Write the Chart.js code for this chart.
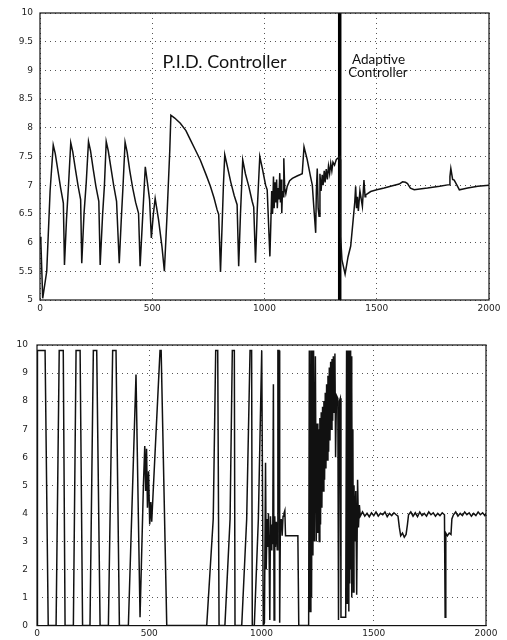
<!DOCTYPE html>
<html>
<head>
<meta charset="utf-8">
<script src="https://cdn.jsdelivr.net/npm/chart.js@4/dist/chart.umd.min.js"></script>
<style>
  body { margin: 0; background: #fff; width: 507px; height: 640px; overflow: hidden; }
  canvas { position: absolute; left: 0; }
  #levelChart { top: 0; }
  #ctrlChart { top: 320px; }
</style>
</head>
<body>
<canvas id="levelChart" width="507" height="320"></canvas>
<canvas id="ctrlChart" width="507" height="320"></canvas>
<script>
// time at which the adaptive controller takes over
const switchTime = 1335;

// top plot: measured level
const levelTime = [
  0, 4, 12, 30, 45, 59, 68, 80, 92, 104, 109, 118, 127, 137, 146, 158, 170, 181, 186,
  196, 206, 216, 225, 237, 249, 262, 268, 279, 287, 295, 304, 316, 328, 341, 353,
  362, 370, 379, 388, 400, 413, 426, 439, 446, 458, 469, 480, 488, 496, 505, 513,
  528, 543, 554, 566, 578, 583, 600, 625, 650, 670, 690, 714, 740, 759, 775, 789,
  796, 804, 812, 817, 823, 835, 850, 865, 878, 885, 893, 903, 915, 930, 945, 952,
  960, 968, 979, 990, 1005, 1012, 1024, 1028, 1032, 1036, 1040, 1043, 1047, 1050,
  1054, 1057, 1061, 1064, 1068, 1071, 1074, 1077, 1080, 1083, 1086, 1090, 1095,
  1101, 1112, 1124, 1145, 1168, 1176, 1190, 1205, 1213, 1220, 1228, 1231, 1235,
  1239, 1243, 1247, 1252, 1257, 1261, 1266, 1270, 1275, 1280, 1285, 1290, 1295,
  1300, 1305, 1312, 1320, 1327, 1335, 1337, 1339, 1345, 1359, 1372, 1384, 1395,
  1402, 1406, 1410, 1414, 1418, 1425, 1436, 1443, 1448, 1451, 1473, 1500, 1533,
  1570, 1600, 1615, 1628, 1637, 1650, 1667, 1700, 1726, 1780, 1823, 1826, 1830,
  1838, 1845, 1860, 1868, 1880, 1905, 1950, 2000
];
const levelValue = [
  6.1, 6.0, 5.03, 5.5, 6.9, 7.7, 7.55, 7.25, 6.95, 6.69, 5.61, 6.4, 7.0, 7.74, 7.58, 7.27, 6.98, 6.75, 5.64,
  6.5, 7.05, 7.76, 7.6, 7.28, 6.98, 6.72, 5.61, 6.5, 7.0, 7.76, 7.6, 7.3, 7.0, 6.72, 5.64,
  6.4, 7.0, 7.75, 7.58, 7.25, 6.95, 6.7, 6.51, 5.59, 6.5, 7.32, 7.0, 6.75, 6.08, 6.5, 6.77,
  6.4, 5.94, 5.5, 6.49, 7.6, 8.22, 8.17, 8.08, 7.95, 7.79, 7.63, 7.44, 7.18, 6.98, 6.78, 6.57,
  6.49, 5.49, 6.4, 7.0, 7.53, 7.32, 7.05, 6.82, 6.66, 5.59, 6.5, 7.44, 7.2, 6.98, 6.72, 6.62,
  5.65, 6.6, 7.5, 7.3, 7.0, 6.92, 5.76, 6.3, 6.9, 6.5, 7.15, 6.6, 7.05, 6.7,
  7.1, 6.6, 6.95, 6.75, 7.21, 6.7, 7.1, 6.51, 6.9, 6.8, 7.47, 6.95, 6.85,
  6.98, 7.08, 7.12, 7.16, 7.2, 7.67, 7.45, 7.15, 7.0, 6.6, 6.17, 6.9, 7.29,
  6.6, 6.46, 7.2, 6.9, 7.18, 7.0, 7.25, 7.05, 7.28, 7.1, 7.33, 7.2, 7.38,
  7.25, 7.4, 7.35, 7.45, 7.47, 7.5, 7.45, 6.11, 5.7, 5.45, 5.75, 5.94, 6.4,
  6.7, 6.98, 6.6, 6.8, 6.55, 6.9, 6.63, 7.09, 6.8, 6.83, 6.89, 6.92, 6.95,
  6.99, 7.02, 7.06, 7.05, 7.03, 6.95, 6.92, 6.94, 6.95, 6.98, 7.01, 7.15, 7.29,
  7.1, 7.09, 6.98, 6.92, 6.93, 6.95, 6.98, 7.0
];

// bottom plot: controller output
const ctrlTime = [
  0, 2, 36, 50, 85, 99, 117, 125, 162, 174, 192, 203, 236, 251, 266, 281,
  318, 337, 352, 367, 407, 441, 459, 466, 474, 480, 484, 488, 492, 497, 502, 507,
  511, 548, 553, 578, 756, 785, 796, 805, 811, 837, 860, 870, 879, 882, 912, 934,
  949, 956, 959, 968, 986, 1001, 1008, 1013, 1018, 1021, 1025, 1028, 1031, 1034,
  1037, 1040, 1043, 1046, 1050, 1053, 1056, 1059, 1062, 1066, 1070, 1073, 1078,
  1081, 1084, 1088, 1092, 1096, 1100, 1104, 1107, 1162, 1166, 1210, 1213, 1217,
  1220, 1223, 1226, 1229, 1232, 1236, 1240, 1244, 1248, 1251, 1254, 1257, 1260,
  1263, 1266, 1269, 1272, 1275, 1278, 1281, 1284, 1287, 1290, 1293, 1296, 1299,
  1302, 1305, 1308, 1311, 1314, 1317, 1320, 1323, 1327, 1330, 1334, 1340, 1343,
  1347, 1351, 1354, 1375, 1379, 1381, 1383, 1385, 1387, 1389, 1391, 1393, 1395,
  1397, 1399, 1401, 1403, 1405, 1407, 1409, 1412, 1416, 1420, 1424, 1428, 1432,
  1436, 1440, 1450, 1460, 1470, 1480, 1490, 1500, 1510, 1520, 1530, 1540, 1550,
  1560, 1570, 1580, 1590, 1600, 1608, 1614, 1620, 1628, 1636, 1644, 1650, 1655,
  1665, 1675, 1685, 1695, 1705, 1715, 1725, 1735, 1745, 1755, 1765, 1775, 1785,
  1795, 1805, 1815, 1818, 1821, 1828, 1836, 1844, 1848, 1855, 1865, 1875, 1885,
  1895, 1905, 1915, 1925, 1935, 1945, 1955, 1965, 1975, 1985, 1995, 2000
];
const ctrlValue = [
  0, 9.8, 9.8, 0, 0, 9.8, 9.8, 0, 0, 9.8, 9.8, 0, 0, 9.8, 9.8, 0,
  0, 9.8, 9.8, 0, 0, 8.95, 0.3, 2.5, 5.0, 6.4, 4.8, 6.3, 4.2, 5.5, 3.6, 4.4,
  3.7, 9.8, 9.8, 0, 0, 3.8, 9.8, 9.8, 0, 0, 3.8, 9.8, 9.8, 0, 0, 3.8,
  9.8, 9.8, 0, 0, 3.8, 9.8, 0, 0.1, 5.8, 2.0, 3.8, 2.8, 4.0, 2.6,
  0.2, 3.9, 2.7, 3.6, 2.9, 8.6, 0.2, 3.9, 2.8, 3.7, 2.7, 9.8, 9.8,
  0.1, 3.5, 3.8, 3.2, 3.9, 4.0, 4.1, 3.2, 3.2, 0, 0, 9.8, 0.5,
  9.8, 1.0, 9.8, 2.5, 9.8, 3.0, 9.6, 3.0, 7.2, 3.3, 7.0, 3.0, 7.4,
  3.6, 7.6, 4.2, 7.8, 4.8, 8.0, 5.2, 8.3, 5.6, 8.6, 5.9, 8.9, 6.2,
  9.2, 6.6, 9.4, 7.0, 9.5, 7.3, 9.6, 7.6, 9.7, 6.0, 8.2, 8.1, 0.2,
  8.0, 8.1, 0.3, 0.3, 9.8, 0.8, 9.8, 1.2, 9.8, 0.5, 9.8, 1.5, 9.8,
  2.0, 9.6, 1.0, 8.5, 1.5, 7.0, 1.2, 5.0, 3.0, 4.8, 1.1, 5.2, 3.5,
  4.3, 3.9, 4.05, 3.9, 4.0, 3.88, 4.02, 3.92, 4.05, 3.9, 4.0, 3.95, 4.05,
  3.88, 4.0, 3.92, 4.02, 3.95, 3.9, 3.5, 3.2, 3.3, 3.15, 3.25, 3.6, 3.95,
  4.05, 3.9, 4.02, 3.88, 4.05, 3.92, 4.0, 3.9, 4.05, 3.95, 4.02, 3.9, 4.0,
  3.92, 4.02, 3.95, 0.3, 3.3, 3.2, 3.3, 3.25, 3.8, 3.95, 4.05, 3.9, 4.0,
  3.92, 4.05, 3.95, 4.02, 3.9, 4.0, 3.92, 4.05, 3.95, 4.02, 3.92, 4.0
];

const xTicks = [0, 500, 1000, 1500, 2000];

function toPoints(ts, vs) {
  return ts.map((t, i) => ({ x: t, y: vs[i] }));
}

// plain box round the plot area
const framePlugin = {
  id: 'frame',
  afterDatasetsDraw(chart) {
    const { ctx, chartArea: a } = chart;
    ctx.save();
    ctx.strokeStyle = '#111';
    ctx.lineWidth = 1.2;
    ctx.strokeRect(a.left, a.top, a.right - a.left, a.bottom - a.top);
    ctx.restore();
  }
};

// the two captions on the top plot
const captionPlugin = {
  id: 'captions',
  afterDatasetsDraw(chart) {
    const { ctx, scales: { x, y } } = chart;
    ctx.save();
    ctx.fillStyle = '#111';
    ctx.textBaseline = 'middle';
    ctx.textAlign = 'center';
    ctx.font = '18px Lato';
    ctx.fillText('P.I.D. Controller', x.getPixelForValue(822), y.getPixelForValue(9.15));
    ctx.textAlign = 'left';
    ctx.font = '13.5px Lato';
    ctx.fillText('Adaptive', x.getPixelForValue(1390), y.getPixelForValue(9.18));
    ctx.fillText('Controller', x.getPixelForValue(1373), y.getPixelForValue(8.96));
    ctx.restore();
  }
};

function axisOptions(minY, maxY, stepY, yWidth, xHeight, yPad) {
  const grid = { color: '#555', lineWidth: 1, drawTicks: false };
  const border = { display: false, dash: [1, 4] };
  const font = { family: 'DejaVu Sans', size: 9 };
  return {
    x: {
      type: 'linear', min: 0, max: 2000,
      afterBuildTicks: s => { s.ticks = xTicks.map(v => ({ value: v })); },
      afterFit: s => { s.height = xHeight; },
      grid, border,
      ticks: { color: '#222', font, padding: 3, maxRotation: 0, callback: v => String(v) }
    },
    y: {
      min: minY, max: maxY,
      afterFit: s => { s.width = yWidth; },
      grid, border,
      ticks: { stepSize: stepY, color: '#222', font, padding: yPad, callback: v => String(v) }
    }
  };
}

new Chart(document.getElementById('levelChart'), {
  type: 'line',
  data: {
    datasets: [
      {
        data: toPoints(levelTime, levelValue),
        borderColor: '#111', borderWidth: 1.5, pointRadius: 0, tension: 0
      },
      {
        data: [{ x: switchTime, y: 5 }, { x: switchTime, y: 10 }],
        borderColor: '#000', borderWidth: 3.5, pointRadius: 0
      }
    ]
  },
  options: {
    responsive: false, animation: false, devicePixelRatio: 1,
    layout: { padding: { top: 13, right: 18, left: 0, bottom: 0 } },
    plugins: { legend: { display: false }, tooltip: { enabled: false } },
    scales: axisOptions(5, 10, 0.5, 40, 20, 7)
  },
  plugins: [framePlugin, captionPlugin]
});

new Chart(document.getElementById('ctrlChart'), {
  type: 'line',
  data: {
    datasets: [{
      data: toPoints(ctrlTime, ctrlValue),
      borderColor: '#111', borderWidth: 1.5, pointRadius: 0, tension: 0
    }]
  },
  options: {
    responsive: false, animation: false, devicePixelRatio: 1,
    layout: { padding: { top: 25, right: 21, left: 0, bottom: 0 } },
    plugins: { legend: { display: false }, tooltip: { enabled: false } },
    scales: axisOptions(0, 10, 1, 37, 12, 9)
  },
  plugins: [framePlugin]
});
</script>
</body>
</html>
